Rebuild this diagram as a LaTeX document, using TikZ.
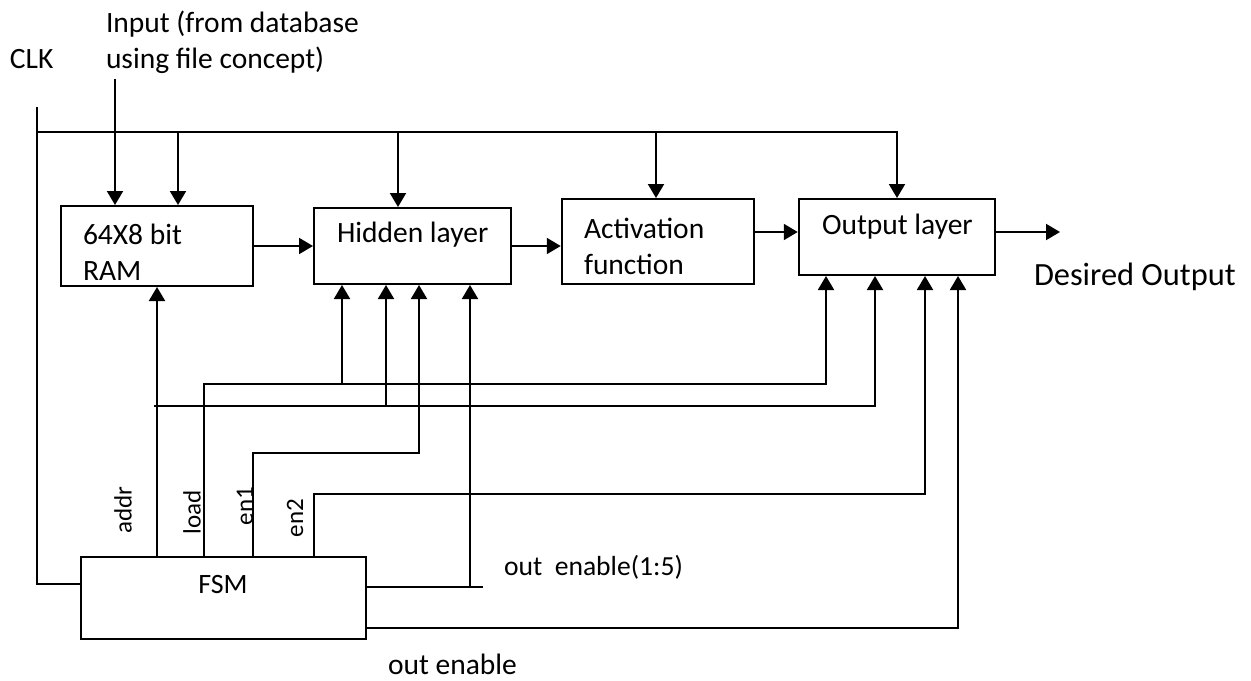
\documentclass[tikz,border=0pt]{standalone}
\usepackage{fontspec}
\setmainfont{Carlito}
\usetikzlibrary{arrows.meta}

\begin{document}
\begin{tikzpicture}[x=0.5pt,y=-0.5pt,line width=1pt,
  box/.style={draw,inner sep=0pt},
  arr/.style={-{Triangle[length=7pt,width=8pt]}},
  txt/.style={font=\fontsize{14.75}{18}\selectfont,inner sep=0pt},
  sig/.style={font=\fontsize{12.5}{15}\selectfont,inner sep=0pt,rotate=90}]
\useasboundingbox (0,0) rectangle (1251,680);
\node[txt,anchor=west] (clk) at (9,59) {CLK};
\node[txt,anchor=west,align=left] (inp) at (105,42) {Input (from database\\using file concept)};
\coordinate (clktop) at (37,107);
\coordinate (bus) at (37,132);
\coordinate (inpend) at (115,79);
\node[box,minimum width=96.25pt,minimum height=40pt] (ram) at (157,246) {};
\node[box,minimum width=98.5pt,minimum height=38pt] (hid) at (412.5,246) {};
\node[box,minimum width=96.25pt,minimum height=42.5pt] (act) at (658,241.5) {};
\node[box,minimum width=98.25pt,minimum height=38pt] (out) at (897,237) {};
\node[box,minimum width=142.5pt,minimum height=41pt] (fsm) at (223.5,598) {};
\node[txt,anchor=west,align=left] (ramtxt) at (82,252) {64X8 bit\\RAM};
\node[txt,anchor=west] (hidtxt) at (336,235) {Hidden layer};
\node[txt,anchor=west,align=left] (acttxt) at (583,246) {Activation\\function};
\node[txt,anchor=west] (outtxt) at (821,227) {Output layer};
\node[txt,font=\fontsize{14}{17}\selectfont] (fsmtxt) at (223,584) {FSM};
\node[txt,anchor=west,font=\fontsize{16.2}{19}\selectfont] (dout) at (1033,277) {Desired Output};
\coordinate (doutend) at (1060,232);
\node[sig] (addr) at (123,510) {addr};
\node[sig] (load) at (192,512) {load};
\node[sig] (en1) at (245,506) {en1};
\node[sig] (en2) at (295,518) {en2};
\node[txt,anchor=west,font=\fontsize{13.8}{16}\selectfont] (oe5) at (503,567) {out~~enable(1:5)};
\node[txt,anchor=west] (oe) at (387,664) {out enable};
\coordinate (oe5end) at (483,587);
\coordinate (adleft) at (154,406);

\draw (clktop) |- (fsm.west |- 0,584);
\draw[arr] (bus) -| (out.north);
\draw[arr] (inpend) -- (inpend |- ram.north);
\foreach \x/\b in {178/ram,398/hid,656/act}
\draw[arr] (\x,132) -- (\x,0 |- \b.north);
\draw[arr] (ram.east) -- (hid.west);
\draw[arr] (hid.east) -- (hid.east -| act.west);
\draw[arr] (act.east |- 0,232) -- (out.west |- 0,232);
\draw[arr] (out.east |- doutend) -- (doutend);
\draw[arr] (ram.south |- fsm.north) -- (ram.south);
\draw[arr] (adleft) -| (875,0 |- out.south);
\draw[arr] (386,406) -- (386,0 |- hid.south);
\draw[arr] (fsm.north -| 204,0) |- (826,384) -- (826,0 |- out.south);
\draw[arr] (342,384) -- (342,0 |- hid.south);
\draw[arr] (fsm.north -| 253,0) |- (419,453) -- (419,0 |- hid.south);
\draw[arr] (fsm.north -| 314,0) |- (925,494) -- (925,0 |- out.south);
\draw (fsm.east |- oe5end) -- (oe5end);
\draw[arr] (470,587) -- (470,0 |- hid.south);
\draw[arr] (fsm.east |- 0,628) -| (958,0 |- out.south);
\end{tikzpicture}
\end{document}
